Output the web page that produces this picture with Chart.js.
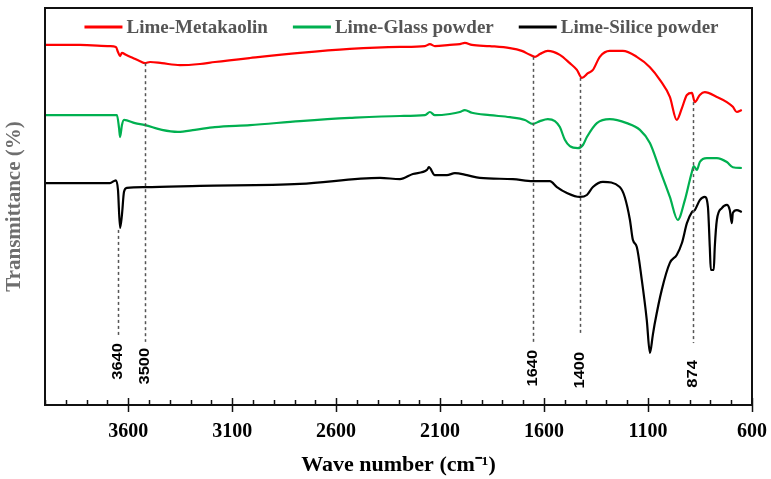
<!DOCTYPE html>
<html>
<head>
<meta charset="utf-8">
<script src="https://cdn.jsdelivr.net/npm/chart.js@4.4.1/dist/chart.umd.min.js"></script>
<style>
  html, body { margin: 0; padding: 0; background: #ffffff; }
  #wrap { width: 771px; height: 479px; }
</style>
</head>
<body>
<div id="wrap"><canvas id="c" width="771" height="479"></canvas></div>
<script>
// ---------- DATA ----------
const seriesNames = ['Lime-Metakaolin', 'Lime-Glass powder', 'Lime-Silice powder'];

// Lime-Metakaolin
const wnMetakaolin = [4000,3832,3688,3659,3649,3639,3630,3611,3577,3543,3519,3495,3438,3351,3255,3183,3014,2774,2534,2293,2173,2149,2125,2053,2005,1981,1947,1861,1764,1707,1668,1644,1620,1582,1524,1476,1442,1418,1389,1365,1332,1284,1221,1154,1091,1043,995,962,937,913,889,875,851,827,769,721,692,673,649];
const tMetakaolin  = [90.7,90.7,90.4,90.2,88.9,87.9,88.7,88.2,87.4,86.6,86.1,86.4,86.1,85.6,85.9,86.4,87.4,88.7,89.7,90.2,90.4,90.9,90.4,90.7,90.9,91.2,90.7,90.4,89.9,89.2,88.2,87.7,88.4,89.2,88.2,86.1,84.4,82.4,83.6,84.4,87.7,89.2,89.2,87.7,85.1,81.9,77.6,71.8,74.8,78.1,78.6,76.3,78.1,78.8,77.6,76.3,75.1,73.8,74.3];

// Lime-Glass powder
const wnGlass = [4000,3688,3654,3644,3639,3630,3620,3567,3519,3438,3361,3279,3183,3014,2774,2534,2293,2173,2149,2125,2053,2005,1981,1947,1861,1764,1692,1654,1620,1582,1548,1524,1500,1476,1437,1413,1394,1346,1284,1202,1139,1091,1043,995,957,923,899,889,880,865,851,817,769,721,692,649];
const tGlass  = [73.0,73.0,73.0,69.8,67.5,70.5,71.8,71.0,70.5,69.3,68.8,69.3,70.0,70.5,71.5,72.3,72.8,73.0,73.8,73.0,73.3,73.8,74.3,73.6,73.0,72.5,71.8,70.8,71.5,72.0,71.5,70.0,66.8,65.2,64.7,65.5,67.5,71.0,72.0,71.0,69.3,66.0,59.2,52.4,46.6,51.6,56.7,58.7,60.2,59.2,61.2,62.2,62.2,61.2,59.9,59.7];

// Lime-Silice powder
const wnSilice = [4000,3688,3659,3649,3639,3630,3620,3606,3519,3255,2774,2389,2293,2231,2163,2154,2125,2067,2029,1971,1909,1750,1654,1572,1538,1490,1428,1394,1365,1317,1236,1212,1187,1173,1154,1130,1106,1091,1077,1067,1034,995,962,937,913,889,875,851,827,812,803,798,784,779,769,745,721,707,697,692,673,649];
const tSilice  = [55.9,55.9,56.6,54.2,44.6,47.9,53.7,54.7,54.9,55.2,55.7,57.2,56.9,58.2,59.2,59.9,57.9,57.9,58.4,57.9,57.2,56.9,56.4,56.4,54.9,53.4,52.4,52.9,54.9,56.2,54.9,52.4,46.6,41.6,39.8,31.5,21.4,13.1,17.6,20.7,29.0,35.8,37.8,40.8,45.8,48.6,49.1,51.6,52.4,49.9,39.8,34.0,34.0,39.8,46.6,49.6,50.4,49.1,45.8,48.4,49.1,48.6];

// x-axis tick labels
const tickLabels = [3600, 3100, 2600, 2100, 1600, 1100, 600];

// marked bands: label, wavenumber of the dashed line, line top / bottom and label start (y units)
const bandLabels   = ['3640', '3500', '1640', '1400', '874'];
const bandPos      = [3649, 3519, 1654, 1428, 885];
const bandLineTop  = [44.1, 86.1, 87.7, 82.4, 76.3];
const bandLineBot  = [16.9, 15.9, 15.6, 17.6, 15.6];
const bandLabelTop = [15.6, 14.4, 13.9, 13.4, 11.3];

// ---------- BUILD ----------
function pts(xs, ys) { return xs.map((x, i) => ({ x: x, y: ys[i] })); }

const SERIF = "'Liberation Serif', 'Times New Roman', serif";
const SANS = "'Liberation Sans', Arial, sans-serif";

const framePlugin = {
  id: 'frameAndMarks',
  afterDatasetsDraw(chart) {
    const ctx = chart.ctx;
    const xs = chart.scales.x, ys = chart.scales.y;
    ctx.save();
    // dashed band markers
    ctx.strokeStyle = '#555555';
    ctx.lineWidth = 1.5;
    ctx.setLineDash([3, 3]);
    bandPos.forEach((wn, i) => {
      const px = Math.round(xs.getPixelForValue(wn)) + 0.5;
      ctx.beginPath();
      ctx.moveTo(px, ys.getPixelForValue(bandLineTop[i]));
      ctx.lineTo(px, ys.getPixelForValue(bandLineBot[i]));
      ctx.stroke();
    });
    ctx.setLineDash([]);
    // band labels (rotated)
    ctx.fillStyle = '#000000';
    ctx.font = 'bold 15px ' + SANS;
    ctx.textAlign = 'right';
    ctx.textBaseline = 'middle';
    bandPos.forEach((wn, i) => {
      const px = xs.getPixelForValue(wn);
      const py = ys.getPixelForValue(bandLabelTop[i]);
      ctx.save();
      ctx.translate(px, py);
      ctx.rotate(-Math.PI / 2);
      ctx.scale(1.1, 1);
      ctx.fillText(bandLabels[i], 0, 0);
      ctx.restore();
    });
    ctx.restore();
  },
  afterDraw(chart) {
    const ctx = chart.ctx;
    const xs = chart.scales.x;
    const a = chart.chartArea;
    ctx.save();
    ctx.strokeStyle = '#111111';
    ctx.lineWidth = 2;
    ctx.strokeRect(a.left, a.top, a.right - a.left, a.bottom - a.top);
    // tick marks (inside)
    ctx.lineWidth = 1.5;
    xs.ticks.forEach(t => {
      const px = Math.round(xs.getPixelForValue(t.value)) + 0.5;
      const major = tickLabels.includes(t.value);
      ctx.beginPath();
      if (major) {
        ctx.moveTo(px, a.bottom - 7);
        ctx.lineTo(px, a.bottom + 7);
      } else {
        ctx.moveTo(px, a.bottom - 5);
        ctx.lineTo(px, a.bottom);
      }
      ctx.stroke();
    });
    // legend inside the top of the plot
    ctx.font = 'bold 19px ' + SERIF;
    ctx.textBaseline = 'middle';
    ctx.textAlign = 'left';
    const lineW = 38, gapIn = 4, gapOut = 25;
    const items = chart.data.datasets.map(d => ({ label: d.label, color: d.borderColor, w: ctx.measureText(d.label).width }));
    let total = items.reduce((s, it) => s + lineW + gapIn + it.w, 0) + gapOut * (items.length - 1);
    let x = (a.left + a.right) / 2 - total / 2 + 3;
    const y = a.top + 19;
    items.forEach(it => {
      ctx.strokeStyle = it.color;
      ctx.lineWidth = 3;
      ctx.beginPath();
      ctx.moveTo(x, y);
      ctx.lineTo(x + lineW, y);
      ctx.stroke();
      ctx.fillStyle = '#555555';
      ctx.fillText(it.label, x + lineW + gapIn, y + 1);
      x += lineW + gapIn + it.w + gapOut;
    });
    ctx.restore();
  }
};

new Chart(document.getElementById('c'), {
  type: 'line',
  data: {
    datasets: [
      { label: seriesNames[0], data: pts(wnMetakaolin, tMetakaolin), borderColor: '#ff0000', backgroundColor: '#ff0000' },
      { label: seriesNames[1], data: pts(wnGlass, tGlass), borderColor: '#00b050', backgroundColor: '#00b050' },
      { label: seriesNames[2], data: pts(wnSilice, tSilice), borderColor: '#000000', backgroundColor: '#000000' }
    ].map(d => Object.assign(d, { borderWidth: 2.2, pointRadius: 0, cubicInterpolationMode: 'monotone', fill: false }))
  },
  options: {
    responsive: false,
    animation: false,
    layout: { padding: { left: 0, right: 19, top: 8, bottom: 0 } },
    plugins: {
      tooltip: { enabled: false },
      legend: { display: false }
    },
    scales: {
      x: {
        type: 'linear',
        reverse: true,
        min: 600,
        max: 4000,
        grid: { display: false, drawTicks: false },
        border: { display: false },
        afterFit(scale) { scale.height = 74; scale.paddingLeft = 0; scale.paddingRight = 0; },
        ticks: {
          stepSize: 100,
          autoSkip: false,
          maxRotation: 0,
          padding: 15,
          color: '#000000',
          font: { family: SERIF, size: 20, weight: 'bold' },
          callback: v => tickLabels.includes(v) ? String(v) : ''
        },
        title: {
          display: true,
          text: 'Wave number (cm\u207B\u00B9)',
          color: '#000000',
          font: { family: SERIF, size: 22, weight: 'bold' },
          padding: { top: 0, bottom: 0 }
        }
      },
      y: {
        min: 0,
        max: 100,
        grid: { display: false, drawTicks: false },
        border: { display: false },
        afterFit(scale) { scale.width = 45; },
        ticks: { display: false },
        title: {
          display: true,
          text: 'Transmittance (%)',
          color: '#6e6e6e',
          font: { family: SERIF, size: 21, weight: 'bold' },
          padding: { top: 2, bottom: 0 }
        }
      }
    }
  },
  plugins: [framePlugin]
});
</script>
</body>
</html>
